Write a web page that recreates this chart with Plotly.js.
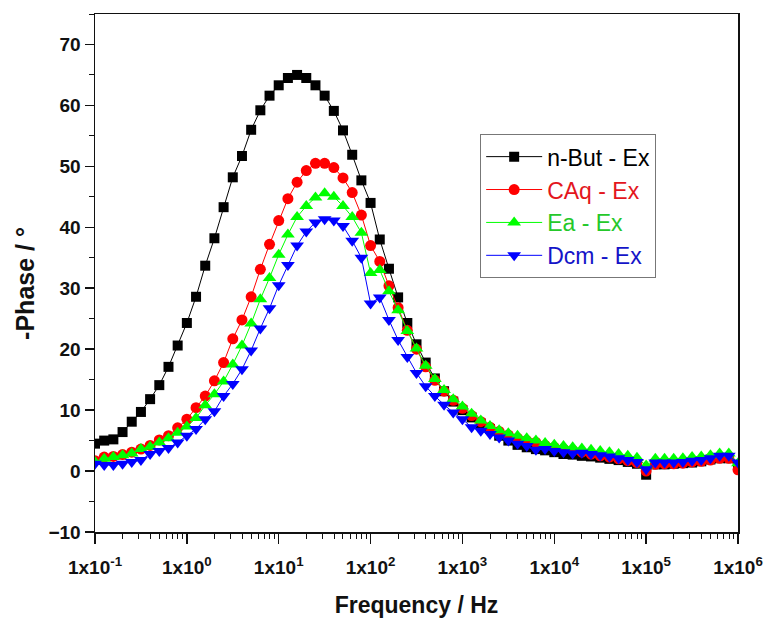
<!DOCTYPE html>
<html>
<head>
<meta charset="utf-8">
<script src="https://cdn.plot.ly/plotly-3.0.1.min.js"></script>
<style>
  html, body { margin: 0; padding: 0; background: #ffffff; }
  #chart { width: 764px; height: 618px; }
</style>
</head>
<body>
<div id="chart"></div>
<script>
// Measurement frequencies (Hz), 10 points per decade from 0.1 Hz to 1 MHz
const frequency = [
  0.1, 0.1259, 0.1585, 0.1995, 0.2512, 0.3162, 0.3981, 0.5012, 0.631, 0.7943,
  1, 1.259, 1.585, 1.995, 2.512, 3.162, 3.981, 5.012, 6.31, 7.943,
  10, 12.59, 15.85, 19.95, 25.12, 31.62, 39.81, 50.12, 63.1, 79.43,
  100, 125.9, 158.5, 199.5, 251.2, 316.2, 398.1, 501.2, 631, 794.3,
  1000, 1259, 1585, 1995, 2512, 3162, 3981, 5012, 6310, 7943,
  10000, 12590, 15850, 19950, 25120, 31620, 39810, 50120, 63100, 79430,
  100000, 125900, 158500, 199500, 251200, 316200, 398100, 501200, 631000, 794300,
  1000000
];

// -Phase (degrees) for each extract
const phaseNBut = [
  4.5, 5.0, 5.2, 6.4, 8.1, 9.7, 11.8, 14.1, 17.1, 20.6,
  24.3, 28.6, 33.7, 38.2, 43.3, 48.2, 51.7, 56.0, 59.2, 61.6,
  63.3, 64.5, 65.0, 64.5, 63.3, 61.6, 59.1, 55.9, 51.9, 47.7,
  44.0, 38.0, 33.2, 28.5, 24.3, 20.8, 17.8, 15.2, 13.1, 11.4,
  10.0, 8.8, 7.8, 6.9, 5.8, 5.0, 4.3, 3.9, 3.6, 3.4,
  3.1, 2.8, 2.7, 2.5, 2.4, 2.2, 2.0, 1.8, 1.5, 1.2,
  -0.6, 1.1, 1.1, 1.2, 1.3, 1.4, 1.6, 1.9, 2.1, 2.1,
  1.0
];
const phaseCAq = [
  1.7, 2.3, 2.4, 2.7, 3.1, 3.6, 4.2, 5.1, 5.8, 7.1,
  8.5, 10.4, 12.3, 14.8, 17.8, 21.7, 24.8, 28.6, 33.1, 37.2,
  41.1, 44.7, 47.4, 49.3, 50.5, 50.5, 49.8, 48.1, 45.7, 42.0,
  37.0, 34.4, 30.4, 26.8, 23.1, 20.0, 17.1, 14.9, 13.1, 11.6,
  10.3, 9.1, 8.1, 7.2, 6.5, 5.9, 5.4, 5.0, 4.7, 4.2,
  3.9, 3.6, 3.4, 3.1, 2.8, 2.5, 2.3, 2.0, 1.7, 1.4,
  0.0, 1.1, 1.2, 1.2, 1.3, 1.5, 1.6, 1.8, 2.1, 2.1,
  0.2
];
const phaseEa = [
  1.5, 2.0, 2.3, 2.6, 2.9, 3.6, 4.0, 4.7, 5.4, 6.3,
  7.3, 8.7, 10.8, 12.6, 14.7, 17.5, 20.6, 24.2, 28.2, 31.7,
  35.5, 38.8, 41.7, 43.5, 44.9, 45.6, 45.0, 43.5, 41.7, 39.1,
  32.5, 33.0, 29.5, 26.4, 23.0, 20.1, 17.3, 15.1, 13.3, 11.8,
  10.6, 9.4, 8.3, 7.4, 6.7, 6.2, 5.8, 5.4, 5.0, 4.6,
  4.3, 4.1, 3.9, 3.7, 3.5, 3.3, 3.1, 2.8, 2.5, 2.2,
  0.9, 2.0, 2.0, 2.0, 2.1, 2.3, 2.4, 2.6, 2.9, 2.9,
  1.3
];
const phaseDcm = [
  1.2, 1.0, 1.0, 1.2, 1.5, 1.8, 2.8, 3.3, 3.8, 4.7,
  5.8, 6.9, 8.5, 9.8, 12.3, 14.3, 16.7, 19.8, 23.4, 26.7,
  30.5, 33.8, 37.0, 39.3, 40.8, 41.3, 41.1, 40.2, 37.8, 35.0,
  27.5, 28.5, 24.8, 21.5, 18.7, 16.1, 13.9, 12.3, 10.9, 9.6,
  8.5, 7.2, 6.6, 6.1, 5.5, 5.0, 4.5, 4.1, 3.5, 3.6,
  3.3, 3.1, 2.9, 3.0, 2.8, 2.6, 2.4, 2.1, 1.8, 1.5,
  0.3, 1.4, 1.4, 1.4, 1.5, 1.7, 1.8, 2.1, 2.5, 2.5,
  1.4
];

// Decade tick positions and their labels
const decadeTicks = [0.1, 1, 10, 100, 1000, 10000, 100000, 1000000];
const decadeLabels = [
  '1x10<sup>-1</sup>', '1x10<sup>0</sup>', '1x10<sup>1</sup>', '1x10<sup>2</sup>',
  '1x10<sup>3</sup>', '1x10<sup>4</sup>', '1x10<sup>5</sup>', '1x10<sup>6</sup>'
];

// Minor tick positions (2..9 within each decade)
const minorTicks = [];
for (let d = 0; d < decadeTicks.length - 1; d++) {
  for (let m = 2; m <= 9; m++) minorTicks.push(decadeTicks[d] * m);
}

function series(name, textColor, y, color, symbol, size) {
  return {
    x: frequency,
    y: y,
    type: 'scatter',
    mode: 'lines+markers',
    name: '<span style="color:' + textColor + '">' + name + '</span>',
    line: { color: color, width: 1 },
    marker: { color: color, symbol: symbol, size: size, line: { width: 0 } }
  };
}

const traces = [
  series('n-But - Ex', '#000000', phaseNBut, '#000000', 'square', 10),
  series('CAq - Ex', '#e3161d', phaseCAq, '#ff0000', 'circle', 11),
  series('Ea - Ex', '#25c82a', phaseEa, '#00ff00', 'triangle-up', 12),
  series('Dcm - Ex', '#1414c8', phaseDcm, '#0000ff', 'triangle-down', 12)
];

const fontFamily = 'Liberation Sans, Arial, sans-serif';
const axisFont = { family: fontFamily, size: 19, color: '#111111', weight: 'bold' };

const layout = {
  width: 764,
  height: 618,
  margin: { l: 95, r: 26, t: 14, b: 86 },
  paper_bgcolor: '#ffffff',
  plot_bgcolor: '#ffffff',
  font: { family: fontFamily, color: '#111111' },
  showlegend: true,
  legend: {
    x: 0.599, y: 0.768, xanchor: 'left', yanchor: 'top',
    bgcolor: '#ffffff',
    bordercolor: '#777777',
    borderwidth: 1,
    font: { family: fontFamily, size: 23 },
    itemwidth: 56
  },
  xaxis: {
    type: 'log',
    range: [-1, 6],
    showgrid: false,
    zeroline: false,
    showline: true,
    linecolor: '#111111',
    linewidth: 1.5,
    mirror: true,
    ticks: 'outside',
    ticklen: 10,
    tickwidth: 1.5,
    tickcolor: '#111111',
    ticklabelstandoff: 8,
    tickmode: 'array',
    tickvals: decadeTicks,
    ticktext: decadeLabels,
    tickfont: axisFont,
    minor: { tickmode: 'array', tickvals: minorTicks, ticks: 'outside', ticklen: 5, tickwidth: 1, tickcolor: '#111111' },
    title: {
      text: 'Frequency / Hz',
      font: { family: fontFamily, size: 23, color: '#111111', weight: 'bold' },
      standoff: 20
    }
  },
  yaxis: {
    range: [-10, 75],
    showgrid: false,
    zeroline: false,
    showline: true,
    linecolor: '#111111',
    linewidth: 1.5,
    mirror: true,
    ticks: 'outside',
    ticklen: 9,
    tickwidth: 1.5,
    tickcolor: '#111111',
    tickmode: 'linear',
    tick0: 0,
    dtick: 10,
    tickfont: axisFont,
    minor: { tickmode: 'linear', tick0: 0, dtick: 5, ticks: 'outside', ticklen: 5, tickwidth: 1, tickcolor: '#111111' }
  },
  // Y-axis title, placed as a rotated label left of the tick labels
  annotations: [{
    text: '-Phase / °',
    xref: 'paper', yref: 'paper',
    x: 0, y: 0.479,
    xanchor: 'center', yanchor: 'middle',
    xshift: -70,
    textangle: -90,
    showarrow: false,
    font: { family: fontFamily, size: 25, color: '#111111', weight: 'bold' }
  }]
};

Plotly.newPlot('chart', traces, layout, { staticPlot: true, displayModeBar: false });
</script>
</body>
</html>
